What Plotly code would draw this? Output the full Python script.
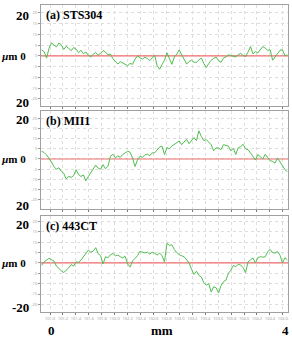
import numpy as np
import plotly.graph_objects as go
from plotly.subplots import make_subplots

panel_titles = ["(a) STS304", "(b) MII1", "(c) 443CT"]

profile_a = [2.8, 2.0, -1.0, 3.5, 6.0, 5.0, 4.2, 6.0, 5.2, 3.0, 4.5, 3.6, 2.4, 3.9, 3.2, 1.5, 2.6, 1.0, 1.8, 0.3,
             -0.5, 0.8, 1.6, 0.4, 1.2, 2.5, 1.8, 0.5, 0.9, -1.3, -2.5, -3.8, -2.6, -3.2, -4.0, -4.6, -3.5, -3.9, -1.5, 0.0,
             -0.8, -1.5, -0.6, -1.2, -2.2, -1.0, 0.3, -4.5, -6.2, -4.0, -2.0, 1.5, -1.0, -3.9, -0.5, 0.8, 2.8, 0.5, -2.0, -3.8,
             -2.6, -2.0, -2.9, -3.0, -1.8, -1.0, -3.5, -5.4, -3.6, -2.0, -1.2, -0.5, -2.2, -3.0, -1.0, -0.5, 0.5, 0.2, -0.4, -0.5,
             0.6, 1.2, 0.2, -0.3, 1.8, 4.4, 1.0, 2.0, 1.4, 3.2, 4.4, 3.6, 2.6, 2.9, -2.0, -0.5, 1.0, 2.6, 2.9, 0.2, 0.4]

profile_b = [3.8, 3.2, 2.0, 0.5, -1.5, -3.7, -5.0, -4.3, -6.0, -7.0, -9.8, -8.5, -9.0, -8.2, -5.3, -7.5, -8.6, -7.8, -10.7, -8.6,
             -6.5, -4.5, -3.0, -4.5, -5.0, -2.8, -4.8, -3.5, 1.3, 2.3, 0.6, 1.5, 0.8, 2.2, 3.0, 3.8, 3.3, 0.5, -3.7, -0.5,
             1.3, 0.8, 2.0, 2.4, 1.6, 3.0, 3.0, 4.5, 5.8, 6.3, 2.2, 5.6, 5.0, 6.3, 7.0, 8.0, 8.8, 7.0, 8.5, 9.7,
             7.5, 9.0, 10.5, 9.0, 13.8, 11.0, 9.0, 9.5, 8.0, 7.0, 4.0, 5.5, 5.3, 4.6, 7.0, 6.5, 6.3, 4.0, 5.2, 2.2,
             5.5, 6.0, 7.2, 5.0, 4.5, 3.0, 1.5, -0.5, 2.2, 1.0, 0.0, 2.3, 1.0, -0.8, -1.2, -2.0, 0.5, -1.5, -3.5, -5.2, -6.2]

profile_c = [-1.2, 0.5, 1.4, 2.2, 1.6, 1.0, -1.5, -2.9, -3.8, -4.6, -3.5, -2.4, -0.8, -1.5, 0.5, 0.3, 1.4, 3.1, 5.0, 6.2,
             5.2, 5.7, 7.4, 4.5, 3.5, -0.5, 3.0, 2.5, 4.0, 4.6, 3.5, 3.8, 3.0, 2.5, 3.2, -0.5, -2.0, 1.0, 2.2, 3.5,
             5.6, 5.0, 4.8, 5.3, 4.3, 5.2, 4.7, 3.8, 4.8, 3.5, 0.5, 9.5, 8.5, 8.8, 6.5, 5.0, 4.0, 3.5, 3.0, 1.5,
             0.0, -3.0, -5.5, -4.0, -6.0, -6.8, -9.5, -10.7, -10.0, -14.0, -11.5, -12.0, -14.5, -11.0, -9.0, -8.3, -5.0, -3.5, -1.2, -1.8,
             -0.6, -1.0, -2.2, -4.6, 0.5, 1.5, 2.4, 0.0, 2.6, 3.0, 2.8, 3.0, 5.5, 6.5, 5.0, 4.8, 5.5, 3.8, 0.0, 2.5, 1.5]

profiles = [profile_a, profile_b, profile_c]
x_ticks = [101.0, 101.2, 101.4, 101.6, 101.8, 102.0, 102.2, 102.4, 102.6, 102.8,
           103.0, 103.2, 103.4, 103.6, 103.8, 104.0, 104.2, 104.4, 104.6]
y_ticks = [20, 15, 10, 5, 0, -5, -10, -15, -20]
y_ranges = [[-23.3, 23.7], [-24.5, 23.5], [-23.7, 22.7]]
x_range = [100.86, 104.68]

W, H = 292, 337
ml, mr, mt, mb = 41, 4, 5, 25
ph = H - mt - mb
pw = W - ml - mr
panel_px = [(5, 106), (111, 209), (216, 312)]

fig = make_subplots(rows=3, cols=1)
serif = "Liberation Serif"


def py(p):
    return (H - mb - p) / ph


def px_(p):
    return (p - ml) / pw


for i, prof in enumerate(profiles):
    r = i + 1
    n = len(prof)
    xs = np.linspace(x_range[0] + 0.01, x_range[1] - 0.01, n)
    fig.add_trace(go.Scatter(x=[x_range[0], x_range[1]], y=[0, 0], mode="lines",
                             line=dict(color="rgb(240,110,110)", width=1.2), hoverinfo="skip"), row=r, col=1)
    fig.add_trace(go.Scatter(x=xs, y=prof, mode="lines",
                             line=dict(color="rgb(80,190,80)", width=1)), row=r, col=1)
    top, bot = panel_px[i]
    dom = [(H - mb - bot) / ph, (H - mb - top) / ph]
    fig.update_yaxes(row=r, col=1, domain=dom, range=y_ranges[i], tickvals=y_ticks,
                     ticktext=[str(v) for v in y_ticks], tickfont=dict(size=4, color="#999"),
                     showgrid=True, gridcolor="#dedede", griddash="dot", gridwidth=1,
                     zeroline=False, showline=True, linecolor="#a0a0a0", mirror=True,
                     ticks="outside", ticklen=2, tickcolor="#999")
    fig.update_xaxes(row=r, col=1, range=x_range, tickvals=x_ticks,
                     ticktext=[f"{v:.1f}" for v in x_ticks] if r == 3 else None,
                     showticklabels=(r == 3), tickfont=dict(size=4, color="#999"),
                     showgrid=True, gridcolor="#dedede", griddash="dot", gridwidth=1,
                     zeroline=False, showline=True, linecolor="#a0a0a0", mirror=True,
                     ticks="outside", ticklen=2, tickcolor="#777")

    yref = "y domain" if r == 1 else f"y{r} domain"
    xref = "x domain" if r == 1 else f"x{r} domain"
    fig.add_annotation(text=f"<b>{panel_titles[i]}</b>", xref=xref, yref=yref, x=0.012, y=0.99,
                       xanchor="left", yanchor="top", showarrow=False,
                       font=dict(family=serif, size=12, color="black"))
    top_lab_y = [15, 119, 224][i]
    mid_lab_y = [56, 159, 263][i]
    bot_lab_y = [102, 205, 307][i]
    bot_txt = ["20", "20", "-20"][i]
    fig.add_annotation(text="<b>20</b>", xref="paper", yref="paper", x=px_(31), y=py(top_lab_y),
                       xanchor="right", yanchor="middle", showarrow=False,
                       font=dict(family=serif, size=13, color="black"))
    fig.add_annotation(text="<b><i>µ</i>m 0</b>", xref="paper", yref="paper", x=px_(28), y=py(mid_lab_y),
                       xanchor="right", yanchor="middle", showarrow=False,
                       font=dict(family=serif, size=11, color="black"))
    fig.add_annotation(text=f"<b>{bot_txt}</b>", xref="paper", yref="paper", x=px_(31), y=py(bot_lab_y),
                       xanchor="right", yanchor="middle", showarrow=False,
                       font=dict(family=serif, size=13, color="black"))

for txt, p in [("0", 51), ("mm", 162), ("4", 285)]:
    fig.add_annotation(text=f"<b>{txt}</b>", xref="paper", yref="paper", x=px_(p), y=py(330),
                       xanchor="center", yanchor="middle", showarrow=False,
                       font=dict(family=serif, size=13, color="black"))

fig.update_layout(width=W, height=H, margin=dict(l=ml, r=mr, t=mt, b=mb),
                  paper_bgcolor="white", plot_bgcolor="white", showlegend=False)

fig.write_html("out.html")
